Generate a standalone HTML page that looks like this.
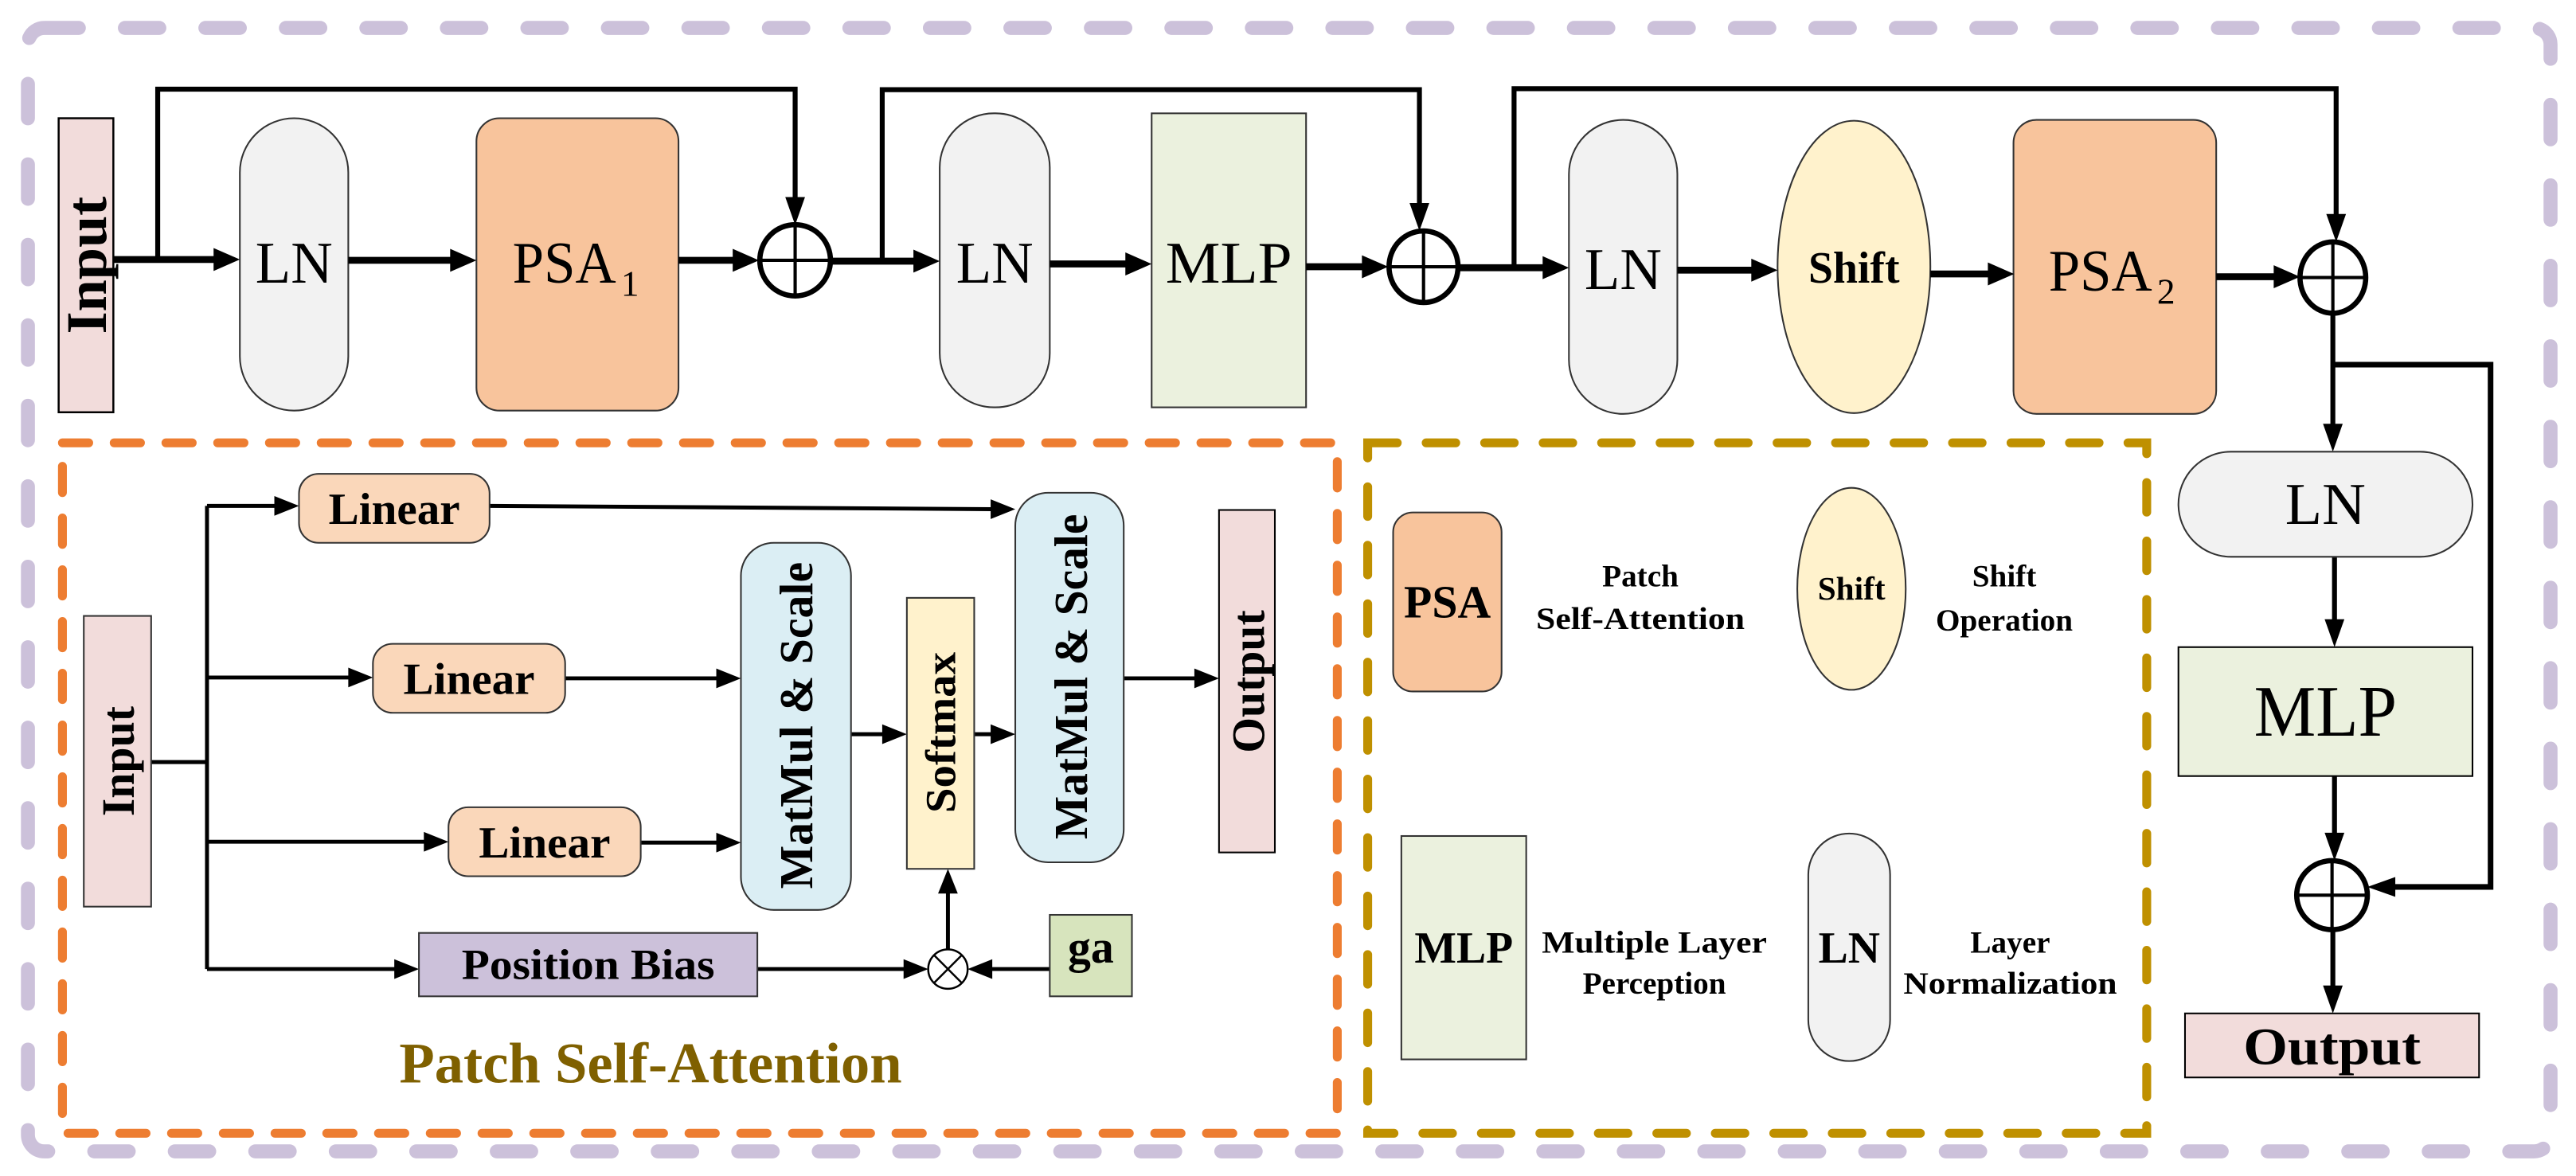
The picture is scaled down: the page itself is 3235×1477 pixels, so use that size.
<!DOCTYPE html>
<html><head><meta charset="utf-8"><style>
html,body{margin:0;padding:0;background:#fff;}
svg{display:block;}
text{font-family:"Liberation Serif",serif;fill:#000;}
.b{font-weight:bold;}
</style></head><body>
<svg width="3235" height="1477" viewBox="0 0 1568 716" preserveAspectRatio="none" xmlns="http://www.w3.org/2000/svg">
<rect width="1568" height="716" fill="#fff"/>
<!-- borders -->
<rect x="17" y="17" width="1535.5" height="684" rx="10" fill="none" stroke="#ccc1da" stroke-width="8.5" stroke-linecap="round" stroke-dasharray="21 28"/>
<rect x="38" y="269.6" width="776" height="420.4" fill="none" stroke="#ed7d31" stroke-width="5.4" stroke-linecap="round" stroke-dasharray="16 15.5"/>
<rect x="832.5" y="269.6" width="474.2" height="420.4" fill="none" stroke="#bf9000" stroke-width="5.4" stroke-linecap="round" stroke-dasharray="18 17.6"/>

<!-- top row shapes -->
<rect x="35.7" y="72" width="33.3" height="179" fill="#f2dcdb" stroke="#000" stroke-width="1.2"/>
<text class="b" font-size="35" text-anchor="middle" transform="translate(52.5,161.5) rotate(-90)" y="12">Input</text>
<rect x="146" y="72" width="66" height="178" rx="33" fill="#f2f2f2" stroke="#333" stroke-width="1"/>
<text font-size="36" x="179" y="172" text-anchor="middle" textLength="47" lengthAdjust="spacingAndGlyphs">LN</text>
<rect x="290" y="72" width="123" height="178" rx="14" fill="#f8c49c" stroke="#333" stroke-width="1"/>
<text font-size="36" x="312" y="172" textLength="63" lengthAdjust="spacingAndGlyphs">PSA</text><text font-size="22" x="378" y="180">1</text>
<rect x="572" y="69" width="67" height="179" rx="33" fill="#f2f2f2" stroke="#333" stroke-width="1"/>
<text font-size="36" x="605.5" y="172" text-anchor="middle" textLength="47" lengthAdjust="spacingAndGlyphs">LN</text>
<rect x="701" y="69" width="94" height="179" fill="#ebf1de" stroke="#333" stroke-width="1"/>
<text font-size="36" x="748" y="172" text-anchor="middle" textLength="77" lengthAdjust="spacingAndGlyphs">MLP</text>
<rect x="955" y="73" width="66" height="179" rx="33" fill="#f2f2f2" stroke="#333" stroke-width="1"/>
<text font-size="36" x="988" y="176" text-anchor="middle" textLength="47" lengthAdjust="spacingAndGlyphs">LN</text>
<ellipse cx="1128.5" cy="162.5" rx="46.5" ry="89" fill="#fff2cc" stroke="#333" stroke-width="1"/>
<text class="b" font-size="27" x="1128.5" y="172" text-anchor="middle">Shift</text>
<rect x="1225.6" y="73" width="123.4" height="179" rx="14" fill="#f8c49c" stroke="#333" stroke-width="1"/>
<text font-size="36" x="1247" y="177" textLength="63" lengthAdjust="spacingAndGlyphs">PSA</text><text font-size="22" x="1313" y="185">2</text>

<!-- top row connectors -->
<g stroke="#000" fill="none">
<line x1="69" y1="158" x2="132" y2="158" stroke-width="4.2"/>
<polyline points="96,158 96,54.3 484,54.3 484,122" stroke-width="3"/>
<line x1="212" y1="158.5" x2="275" y2="158.5" stroke-width="4.2"/>
<line x1="413" y1="158.5" x2="447" y2="158.5" stroke-width="4.2"/>
<line x1="505" y1="159" x2="557" y2="159" stroke-width="4.2"/>
<polyline points="537,159 537,54.6 864,54.6 864,125" stroke-width="3"/>
<line x1="639" y1="160.7" x2="686" y2="160.7" stroke-width="4.2"/>
<line x1="795" y1="162.4" x2="830" y2="162.4" stroke-width="4.2"/>
<line x1="887" y1="163" x2="940" y2="163" stroke-width="4.2"/>
<polyline points="921.6,163 921.6,54 1422,54 1422,131" stroke-width="3"/>
<line x1="1021" y1="164.5" x2="1067" y2="164.5" stroke-width="4.2"/>
<line x1="1175" y1="166.8" x2="1211" y2="166.8" stroke-width="4.2"/>
<line x1="1349" y1="168.5" x2="1385" y2="168.5" stroke-width="4.2"/>
<line x1="1420" y1="190" x2="1420" y2="259" stroke-width="3"/>
<polyline points="1420,222 1516,222 1516,540 1457,540" stroke-width="3.4"/>
<line x1="1421" y1="339" x2="1421" y2="378" stroke-width="3"/>
<line x1="1421" y1="472.5" x2="1421" y2="508" stroke-width="3"/>
<line x1="1420" y1="566" x2="1420" y2="601" stroke-width="3"/>
<!-- circles -->
<ellipse cx="484" cy="158.5" rx="21.5" ry="21.7" stroke-width="3.2"/>
<line x1="484" y1="137" x2="484" y2="180" stroke-width="2"/><line x1="462.5" y1="158.5" x2="505.5" y2="158.5" stroke-width="2"/>
<ellipse cx="866.5" cy="162.4" rx="21" ry="21.8" stroke-width="3.2"/>
<line x1="866.5" y1="140.6" x2="866.5" y2="184.2" stroke-width="2"/><line x1="845.5" y1="162.4" x2="887.5" y2="162.4" stroke-width="2"/>
<ellipse cx="1420" cy="169" rx="20" ry="21.7" stroke-width="3.2"/>
<line x1="1420" y1="147.3" x2="1420" y2="190.7" stroke-width="2"/><line x1="1400" y1="169" x2="1440" y2="169" stroke-width="2"/>
<ellipse cx="1419.5" cy="545" rx="21.5" ry="21" stroke-width="3.2"/>
<line x1="1419.5" y1="524" x2="1419.5" y2="566" stroke-width="2"/><line x1="1398" y1="545" x2="1441" y2="545" stroke-width="2"/>
</g>
<g fill="#000">
<polygon points="146,158 130,151 130,165"/>
<polygon points="484,137 478,120 490,120"/>
<polygon points="290,158.5 274,151.5 274,165.5"/>
<polygon points="462,158.5 446,151.5 446,165.5"/>
<polygon points="572,159 556,152 556,166"/>
<polygon points="864,140.6 858,123.6 870,123.6"/>
<polygon points="701,160.7 685,153.7 685,167.7"/>
<polygon points="845,162.4 829,155.4 829,169.4"/>
<polygon points="955,163 939,156 939,170"/>
<polygon points="1422,147.3 1416,130.3 1428,130.3"/>
<polygon points="1082,164.5 1066,157.5 1066,171.5"/>
<polygon points="1226,166.8 1210,159.8 1210,173.8"/>
<polygon points="1400,168.5 1384,161.5 1384,175.5"/>
<polygon points="1420,275 1414,258 1426,258"/>
<polygon points="1421,394 1415,377 1427,377"/>
<polygon points="1421,524 1415,507 1427,507"/>
<polygon points="1420,617 1414,600 1426,600"/>
<polygon points="1441,540 1458,534 1458,546"/>
</g>

<!-- right column boxes -->
<rect x="1326" y="275" width="179" height="64" rx="32" fill="#f2f2f2" stroke="#333" stroke-width="1"/>
<text font-size="36" x="1415.5" y="319" text-anchor="middle" textLength="49" lengthAdjust="spacingAndGlyphs">LN</text>
<rect x="1326" y="394" width="179" height="78.5" fill="#ebf1de" stroke="#000" stroke-width="1"/>
<text font-size="44" x="1415.5" y="448" text-anchor="middle" textLength="87" lengthAdjust="spacingAndGlyphs">MLP</text>
<rect x="1330" y="617" width="179" height="39" fill="#f2dcdb" stroke="#000" stroke-width="1"/>
<text class="b" font-size="32" x="1419.5" y="648" text-anchor="middle" textLength="108" lengthAdjust="spacingAndGlyphs">Output</text>

<!-- PSA detail -->
<g stroke="#000" fill="none" stroke-width="2.4">
<line x1="92" y1="464" x2="126" y2="464"/>
<line x1="126" y1="308" x2="126" y2="590"/>
<line x1="126" y1="308" x2="168" y2="308"/>
<line x1="298" y1="308" x2="604" y2="310"/>
<line x1="126" y1="412.5" x2="213" y2="412.5"/>
<line x1="344" y1="413" x2="438" y2="413"/>
<line x1="126" y1="512.5" x2="259" y2="512.5"/>
<line x1="390" y1="513" x2="438" y2="513"/>
<line x1="518" y1="447" x2="539" y2="447"/>
<line x1="593" y1="447" x2="605" y2="447"/>
<line x1="684" y1="413" x2="728" y2="413"/>
<line x1="126" y1="590" x2="241" y2="590"/>
<line x1="461" y1="590" x2="552" y2="590"/>
<line x1="639" y1="590" x2="602" y2="590"/>
<line x1="577" y1="578" x2="577" y2="543"/>
</g>
<g fill="#000">
<polygon points="182,308 167,302 167,314"/>
<polygon points="618,310 603,304 603,316"/>
<polygon points="227,412.5 212,406.5 212,418.5"/>
<polygon points="451,413 436,407 436,419"/>
<polygon points="273,512.5 258,506.5 258,518.5"/>
<polygon points="451,513 436,507 436,519"/>
<polygon points="552,447 537,441 537,453"/>
<polygon points="618,447 603,441 603,453"/>
<polygon points="742,413 727,407 727,419"/>
<polygon points="255,590 240,584 240,596"/>
<polygon points="565,590 550,584 550,596"/>
<polygon points="589,590 604,584 604,596"/>
<polygon points="577,529 571,544 583,544"/>
</g>
<rect x="51" y="375" width="41" height="177" fill="#f2dcdb" stroke="#333" stroke-width="1"/>
<text class="b" font-size="28" text-anchor="middle" transform="translate(71.5,463.5) rotate(-90)" y="10" textLength="67" lengthAdjust="spacingAndGlyphs">Input</text>
<rect x="182" y="288.5" width="116" height="42" rx="12" fill="#fad7ba" stroke="#333" stroke-width="1"/>
<text class="b" font-size="27" x="240" y="319" text-anchor="middle" textLength="80" lengthAdjust="spacingAndGlyphs">Linear</text>
<rect x="227" y="392" width="117" height="42" rx="12" fill="#fad7ba" stroke="#333" stroke-width="1"/>
<text class="b" font-size="27" x="285.5" y="422.5" text-anchor="middle" textLength="80" lengthAdjust="spacingAndGlyphs">Linear</text>
<rect x="273" y="491.5" width="117" height="42" rx="12" fill="#fad7ba" stroke="#333" stroke-width="1"/>
<text class="b" font-size="27" x="331.5" y="522" text-anchor="middle" textLength="80" lengthAdjust="spacingAndGlyphs">Linear</text>
<rect x="451" y="330.5" width="67" height="223.5" rx="20" fill="#dbeef4" stroke="#333" stroke-width="1"/>
<text class="b" font-size="29" text-anchor="middle" transform="translate(484.5,441.7) rotate(-90)" y="10" textLength="199" lengthAdjust="spacingAndGlyphs">MatMul &amp; Scale</text>
<rect x="552" y="364" width="41" height="165" fill="#fff2cc" stroke="#333" stroke-width="1"/>
<text class="b" font-size="26" text-anchor="middle" transform="translate(572.5,446) rotate(-90)" y="9" textLength="98" lengthAdjust="spacingAndGlyphs">Softmax</text>
<rect x="618" y="300" width="66" height="225" rx="20" fill="#dbeef4" stroke="#333" stroke-width="1"/>
<text class="b" font-size="29" text-anchor="middle" transform="translate(651.5,412) rotate(-90)" y="10" textLength="198" lengthAdjust="spacingAndGlyphs">MatMul &amp; Scale</text>
<rect x="742" y="310.5" width="34" height="208.5" fill="#f2dcdb" stroke="#000" stroke-width="1"/>
<text class="b" font-size="28" text-anchor="middle" transform="translate(759.5,415) rotate(-90)" y="10" textLength="87" lengthAdjust="spacingAndGlyphs">Output</text>
<rect x="255" y="568" width="206" height="38.6" fill="#ccc1da" stroke="#333" stroke-width="1"/>
<text class="b" font-size="26" x="358" y="596" text-anchor="middle" textLength="154" lengthAdjust="spacingAndGlyphs">Position Bias</text>
<rect x="639" y="557" width="50" height="49.6" fill="#d7e4bd" stroke="#333" stroke-width="1"/>
<text class="b" font-size="28" x="664" y="586" text-anchor="middle">ga</text>
<circle cx="577" cy="590" r="12" fill="#fff" stroke="#000" stroke-width="1.2"/>
<line x1="568.5" y1="581.5" x2="585.5" y2="598.5" stroke="#000" stroke-width="1.2"/>
<line x1="585.5" y1="581.5" x2="568.5" y2="598.5" stroke="#000" stroke-width="1.2"/>
<text class="b" font-size="35" x="396" y="659" text-anchor="middle" style="fill:#7f6000" textLength="306" lengthAdjust="spacingAndGlyphs">Patch Self-Attention</text>

<!-- legend -->
<rect x="848" y="312" width="66" height="109" rx="12" fill="#f8c49c" stroke="#333" stroke-width="1"/>
<text class="b" font-size="28" x="881" y="376" text-anchor="middle">PSA</text>
<text class="b" font-size="19" x="998.5" y="357" text-anchor="middle">Patch</text>
<text class="b" font-size="19" x="998.5" y="383" text-anchor="middle" textLength="127" lengthAdjust="spacingAndGlyphs">Self-Attention</text>
<ellipse cx="1127" cy="358.5" rx="33" ry="61.5" fill="#fff2cc" stroke="#333" stroke-width="1"/>
<text class="b" font-size="20" x="1127" y="365" text-anchor="middle">Shift</text>
<text class="b" font-size="19" x="1220" y="357" text-anchor="middle">Shift</text>
<text class="b" font-size="19" x="1220" y="384" text-anchor="middle">Operation</text>
<rect x="853" y="509" width="76" height="136" fill="#ebf1de" stroke="#333" stroke-width="1"/>
<text class="b" font-size="27" x="891" y="586" text-anchor="middle">MLP</text>
<text class="b" font-size="19" x="1007" y="580" text-anchor="middle" textLength="137" lengthAdjust="spacingAndGlyphs">Multiple Layer</text>
<text class="b" font-size="19" x="1007" y="605" text-anchor="middle">Perception</text>
<rect x="1100.7" y="507.5" width="49.8" height="138.5" rx="25" fill="#f2f2f2" stroke="#333" stroke-width="1"/>
<text class="b" font-size="27" x="1125.6" y="586" text-anchor="middle">LN</text>
<text class="b" font-size="19" x="1223.6" y="580" text-anchor="middle">Layer</text>
<text class="b" font-size="19" x="1223.6" y="605" text-anchor="middle" textLength="130" lengthAdjust="spacingAndGlyphs">Normalization</text>
</svg>
</body></html>
